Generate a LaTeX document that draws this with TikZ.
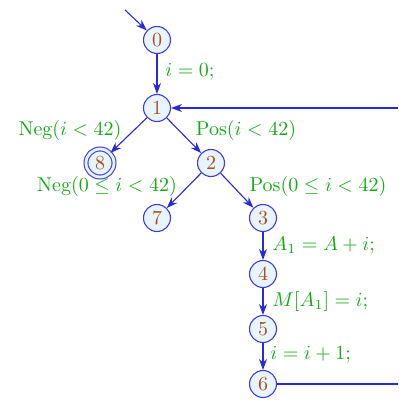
\documentclass[tikz,border=0pt]{standalone}
\usetikzlibrary{arrows.meta}
\definecolor{nodefill}{RGB}{232,244,255}
\definecolor{nodeline}{RGB}{60,60,230}
\definecolor{numcol}{RGB}{170,80,20}
\definecolor{labcol}{RGB}{20,170,20}
\definecolor{edgecol}{RGB}{40,40,220}
\tikzset{
  st/.style={circle, draw=nodeline, fill=nodefill, text=numcol, minimum size=13.5pt, inner sep=0pt, line width=0.55pt},
  fin/.style={st, double=nodefill, double distance=1.4pt, minimum size=14pt},
  edge/.style={draw=edgecol, line width=0.55pt, -{Stealth[length=5.5pt,width=4pt]}},
  plain/.style={draw=edgecol, line width=0.55pt},
  lab/.style={text=labcol, inner sep=1pt}
}
\begin{document}
\begin{tikzpicture}[x=0.5pt,y=-0.5pt]
\useasboundingbox (0,0) rectangle (398,401);
\node[st] (n0) at (157,40) {0};
\node[st] (n1) at (157,108) {1};
\node[fin] (n8) at (100,163) {8};
\node[st] (n2) at (211,163) {2};
\node[st] (n7) at (157,218) {7};
\node[st] (n3) at (263,218) {3};
\node[st] (n4) at (263,274) {4};
\node[st] (n5) at (263,329) {5};
\node[st] (n6) at (263,384) {6};
\coordinate (start) at (125,10);
\coordinate (back) at (398,108);
\coordinate (out) at (398,384);
\draw[edge] (start) -- (n0);
\draw[edge] (n0) -- (n1);
\draw[edge] (n1) -- (n8);
\draw[edge] (n1) -- (n2);
\draw[edge] (n2) -- (n7);
\draw[edge] (n2) -- (n3);
\draw[edge] (n3) -- (n4);
\draw[edge] (n4) -- (n5);
\draw[edge] (n5) -- (n6);
\draw[plain] (n6) -- (out);
\draw[edge] (back) -- (n1);
\node[lab, anchor=west] (l01) at (163,72) {$i = 0;$};
\node[lab] (l18) at (70,130) {Neg$(i < 42)$};
\node[lab] (l12) at (246,130) {Pos$(i < 42)$};
\node[lab] (l27) at (107,186) {Neg$(0 \leq i < 42)$};
\node[lab] (l23) at (318,186) {Pos$(0 \leq i < 42)$};
\node[lab, anchor=west] (l34) at (270,246) {$A_1 = A + i;$};
\node[lab, anchor=west] (l45) at (270,301) {$M[A_1] = i;$};
\node[lab, anchor=west] (l56) at (268,355) {$i = i + 1;$};
\end{tikzpicture}
\end{document}
